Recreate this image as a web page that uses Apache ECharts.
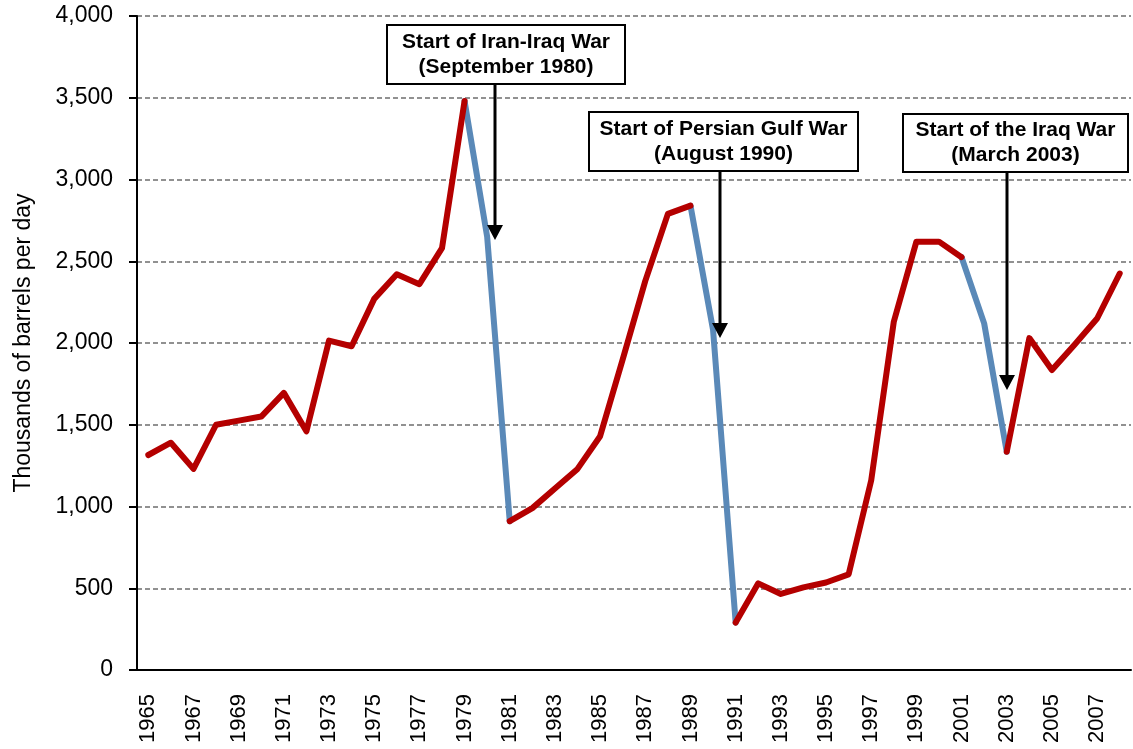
<!DOCTYPE html>
<html>
<head>
<meta charset="utf-8">
<script src="https://cdn.jsdelivr.net/npm/echarts@6/dist/echarts.min.js"></script>
<style>
  html, body { margin: 0; padding: 0; background: #fff; }
  #chart { width: 1133px; height: 749px; }
</style>
</head>
<body>
<div id="chart"></div>
<script>
// years on the category axis
var years = ['1965', '1966', '1967', '1968', '1969', '1970', '1971', '1972', '1973', '1974',
  '1975', '1976', '1977', '1978', '1979', '1980', '1981', '1982', '1983', '1984',
  '1985', '1986', '1987', '1988', '1989', '1990', '1991', '1992', '1993', '1994',
  '1995', '1996', '1997', '1998', '1999', '2000', '2001', '2002', '2003', '2004',
  '2005', '2006', '2007', '2008']

// thousands of barrels per day
var production = [1315, 1390, 1230, 1500, 1525, 1550, 1695, 1460, 2015, 1980,
  2270, 2420, 2360, 2580, 3480, 2650, 910, 990, 1110, 1230,
  1430, 1900, 2380, 2790, 2840, 2080, 290, 530, 465, 505,
  535, 585, 1160, 2130, 2620, 2620, 2525, 2120, 1335, 2030,
  1835, 1990, 2150, 2425]

// war periods drawn in blue [from, to]
var warRanges = [[1979, 1981], [1989, 1991], [2001, 2003]]

// annotation texts, arrow year position and arrow tip value
var noteTexts = ['Start of Iran-Iraq War\n(September 1980)', 'Start of Persian Gulf War\n(August 1990)', 'Start of the Iraq War\n(March 2003)']
var noteYears = [1980.33, 1990.3, 2003.0]
var noteTips = [2630, 2030, 1712]

var yTicks = [0, 500, 1000, 1500, 2000, 2500, 3000, 3500, 4000]

var RED = '#B40000'
var BLUE = '#5A89B8'
var FONT = '"Liberation Sans", Arial, sans-serif'

function inWar(year, strict) {
  for (var i = 0; i < warRanges.length; i++) {
    var a = warRanges[i][0], b = warRanges[i][1]
    if (strict ? (year > a && year < b) : (year >= a && year <= b)) return true
  }
  return false
}

var blueData = production.map(function(v, i) { return inWar(+years[i], false) ? v : null })
var redData = production.map(function(v, i) { return inWar(+years[i], true) ? null : v })

var chart = echarts.init(document.getElementById('chart'))

chart.setOption({
  animation: false,
  backgroundColor: '#fff',
  grid: { left: 137, right: 2, top: 16, bottom: 79 },
  xAxis: {
    type: 'category',
    data: years,
    boundaryGap: true,
    axisLine: { lineStyle: { color: '#000', width: 2 } },
    axisTick: { interval: 0, length: 5, lineStyle: { color: '#000', width: 2 } },
    axisLabel: {
      interval: 1,
      rotate: 90,
      margin: 24,
      fontSize: 22,
      color: '#000',
      fontFamily: FONT
    },
    splitLine: { show: false }
  },
  yAxis: {
    type: 'value',
    min: yTicks[0],
    max: yTicks[yTicks.length - 1],
    interval: 500,
    name: 'Thousands of barrels per day',
    nameLocation: 'middle',
    nameGap: 102,
    nameTextStyle: { fontSize: 23, color: '#000', fontFamily: FONT },
    axisLine: { show: true, lineStyle: { color: '#000', width: 2 } },
    axisTick: { show: true, inside: false, length: 8, lineStyle: { color: '#000', width: 2 } },
    axisLabel: {
      margin: 24,
      fontSize: 23,
      color: '#000',
      fontFamily: FONT,
      formatter: function(v) { return v.toLocaleString('en-US') }
    },
    splitLine: { show: true, lineStyle: { color: '#6e6e6e', width: 1.5, type: [5, 3] } }
  },
  series: [
    {
      name: 'war',
      type: 'line',
      data: blueData,
      symbol: 'none',
      connectNulls: false,
      lineStyle: { color: BLUE, width: 6, cap: 'round', join: 'round' },
      z: 2
    },
    {
      name: 'production',
      type: 'line',
      data: redData,
      symbol: 'none',
      connectNulls: false,
      lineStyle: { color: RED, width: 6, cap: 'round', join: 'round' },
      z: 3
    }
  ]
})

// boxes for the annotations (pixel layout)
var boxes = [
  { left: 387, top: 25, width: 238, height: 59 },
  { left: 589, top: 112, width: 269, height: 59 },
  { left: 903, top: 114, width: 225, height: 58 }
]

function yearToPixel(year) {
  var idx = year - (+years[0])
  var i0 = Math.floor(idx)
  var p0 = chart.convertToPixel({ xAxisIndex: 0 }, i0)
  var p1 = chart.convertToPixel({ xAxisIndex: 0 }, i0 + 1)
  return p0 + (p1 - p0) * (idx - i0)
}

var graphics = []
noteTexts.forEach(function(txt, i) {
  var b = boxes[i]
  var ax = Math.round(yearToPixel(noteYears[i]))
  var tipY = chart.convertToPixel({ yAxisIndex: 0 }, noteTips[i])
  graphics.push({
    type: 'line',
    shape: { x1: ax, y1: b.top + b.height, x2: ax, y2: tipY - 12 },
    style: { stroke: '#000', lineWidth: 3 },
    z: 10
  })
  graphics.push({
    type: 'polygon',
    shape: { points: [[ax - 8, tipY - 15], [ax + 8, tipY - 15], [ax, tipY]] },
    style: { fill: '#000' },
    z: 10
  })
  graphics.push({
    type: 'rect',
    shape: { x: b.left, y: b.top, width: b.width, height: b.height },
    style: { fill: '#fff', stroke: '#000', lineWidth: 2 },
    z: 10
  })
  graphics.push({
    type: 'text',
    x: b.left + b.width / 2,
    y: b.top + b.height / 2,
    style: {
      text: txt,
      fontSize: 21,
      fontWeight: 'bold',
      fontFamily: FONT,
      fill: '#000',
      align: 'center',
      verticalAlign: 'middle',
      lineHeight: 25
    },
    z: 11
  })
})

chart.setOption({ graphic: graphics })
</script>
</body>
</html>
